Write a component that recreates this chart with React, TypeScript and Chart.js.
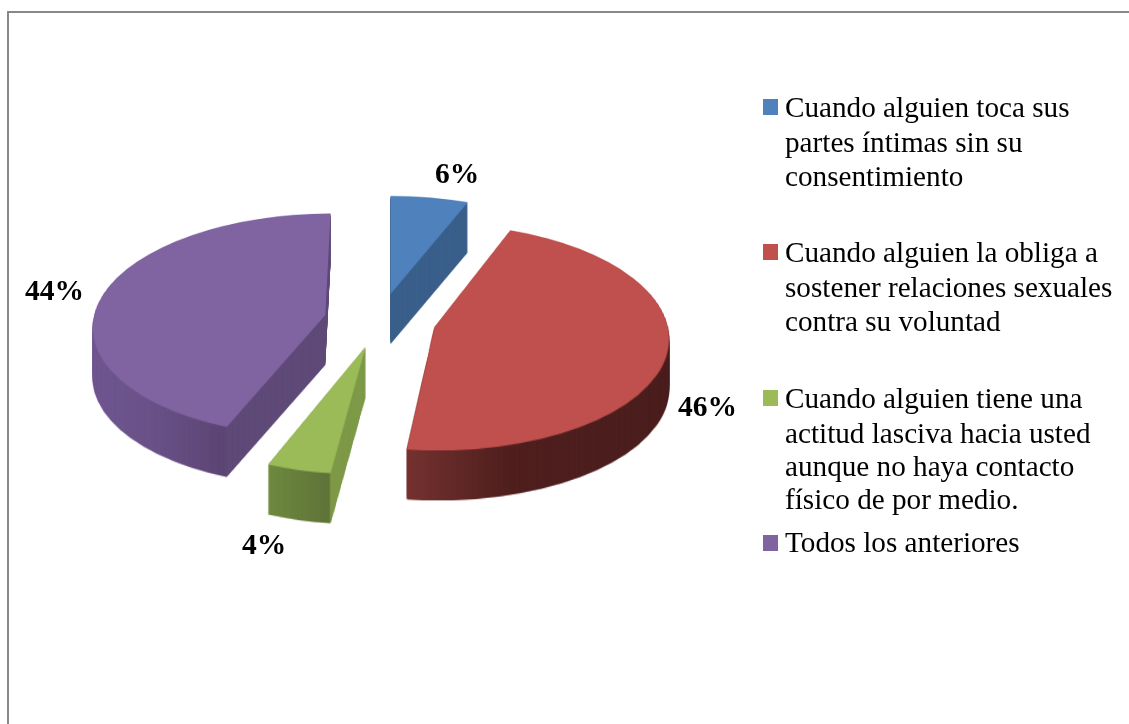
import React, { useEffect, useRef } from "react";
import { Chart, registerables } from "chart.js";

Chart.register(...registerables);

const categories = [
  ["Cuando alguien toca sus", "partes íntimas sin su", "consentimiento"],
  ["Cuando alguien la obliga a", "sostener relaciones sexuales", "contra su voluntad"],
  ["Cuando alguien tiene una", "actitud lasciva hacia usted", "aunque no haya contacto", "físico de por medio."],
  ["Todos los anteriores"],
];
const values = [6, 46, 4, 44];
const topColors = ["#4f81bd", "#c0504d", "#9bbb59", "#8064a2"];

// Layout constants
const W = 1129;
const H = 724;
const PIE_RADIUS = 232;
const PIVOT_X = 380;
const PIVOT_Y = 320;
const TILT = 0.48;
const EXPLODE = 56;
const DEPTH = 50;
const PERSPECTIVE_X = 390;
const PERSPECTIVE_K = 0.0008;
const wallStops: [number, string][][] = [
  [[388, "#3a5f8b"], [470, "#3a5f8b"]],
  [[405, "#753230"], [450, "#642a28"], [510, "#4f1f1e"], [670, "#4b1e1e"]],
  [[264, "#6f8b40"], [329, "#5f7338"], [331, "#7f9a48"], [365, "#7f9a48"]],
  [[93, "#6f5690"], [150, "#6a5288"], [225, "#5c4574"], [228, "#5f4a78"], [335, "#5f4a78"]],
];
const pctPos: [number, number][] = [[435, 183], [678, 416], [242, 554], [25, 300]];
const legendBaselines = [
  [117, 152, 186],
  [262, 297, 331],
  [408, 443, 476, 509],
  [552],
];
const legendSwatchY = [99, 244, 390, 535];

const makeLayer = () => {
  const c = document.createElement("canvas");
  c.width = W;
  c.height = H;
  return c;
};

const pie3d = {
  id: "pie3d",
  beforeDatasetsDraw(chart: any) {
    const ctx: CanvasRenderingContext2D = chart.ctx;
    const arcs = chart.getDatasetMeta(0).data;

    // Draw a slice's own ArcElement tilted onto the pie plane, then apply a projective warp row by row.
    const silhouette = (arc: any) => {
      const flat = makeLayer();
      const fc = flat.getContext("2d")!;
      const mid = (arc.startAngle + arc.endAngle) / 2;
      const dx = Math.cos(mid) * EXPLODE;
      const dy = Math.sin(mid) * EXPLODE;
      fc.save();
      fc.translate(PIVOT_X, PIVOT_Y);
      fc.scale(1, TILT);
      fc.translate(dx - arc.x, dy - arc.y);
      arc.draw(fc);
      fc.restore();
      const warped = makeLayer();
      const wc = warped.getContext("2d")!;
      for (let y = 0; y < H; y++) {
        const v = y + 0.5 - PIVOT_Y;
        const s = 1 + PERSPECTIVE_K * v;
        const srcY = PIVOT_Y + v / s;
        wc.drawImage(flat, 0, srcY - 0.5, W, 1, PERSPECTIVE_X - PERSPECTIVE_X * s, y, W * s, 1);
      }
      return warped;
    };

    arcs.forEach((arc: any, i: number) => {
      const face = silhouette(arc);
      const wall = makeLayer();
      const wc = wall.getContext("2d")!;
      wc.drawImage(face, 0, 0);
      const stops = wallStops[i];
      const x0 = stops[0][0];
      const x1 = stops[stops.length - 1][0];
      const g = wc.createLinearGradient(x0, 0, x1, 0);
      stops.forEach(([p, c]) => g.addColorStop((p - x0) / (x1 - x0), c));
      wc.globalCompositeOperation = "source-in";
      wc.fillStyle = g;
      wc.fillRect(0, 0, W, H);
      for (let d = DEPTH; d >= 1; d--) ctx.drawImage(wall, 0, d);
      ctx.drawImage(face, 0, 0);
    });
    return false;
  },
  afterDraw(chart: any) {
    const ctx: CanvasRenderingContext2D = chart.ctx;
    ctx.save();
    // frame
    ctx.fillStyle = "#888888";
    ctx.fillRect(7, 11, W - 7, 2);
    ctx.fillRect(7, 11, 2, H - 11);
    // percentage labels
    ctx.fillStyle = "#000";
    ctx.textAlign = "left";
    ctx.textBaseline = "alphabetic";
    ctx.font = "bold 29.5px 'Liberation Serif'";
    values.forEach((v, i) => ctx.fillText(`${v}%`, pctPos[i][0], pctPos[i][1]));
    // legend
    ctx.font = "29.2px 'Liberation Serif'";
    categories.forEach((lines, i) => {
      ctx.fillStyle = topColors[i];
      ctx.fillRect(763, legendSwatchY[i], 15, 16);
      ctx.fillStyle = "#000";
      lines.forEach((t, j) => ctx.fillText(t, 785, legendBaselines[i][j]));
    });
    ctx.restore();
  },
};

export default function App() {
  const ref = useRef<HTMLCanvasElement>(null);
  useEffect(() => {
    const chart = new Chart(ref.current!, {
      type: "pie",
      data: {
        labels: categories.map((l) => l.join(" ")),
        datasets: [{ data: values, backgroundColor: topColors, borderWidth: 0 }],
      },
      options: {
        animation: false,
        responsive: false,
        radius: PIE_RADIUS,
        layout: { padding: 0 },
        plugins: { legend: { display: false }, tooltip: { enabled: false } },
      } as any,
      plugins: [pie3d as any],
    });
    return () => chart.destroy();
  }, []);
  return (
    <canvas
      ref={ref}
      width={W}
      height={H}
      style={{ position: "fixed", left: 0, top: 0, width: W, height: H, background: "#fff" }}
    />
  );
}
